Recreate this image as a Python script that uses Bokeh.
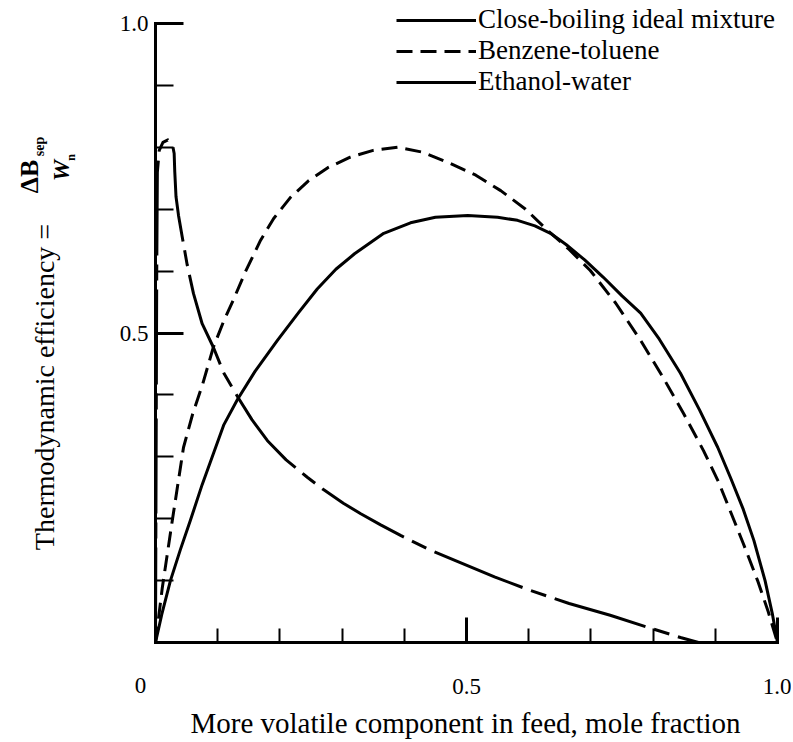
import math
from bokeh.plotting import figure
from bokeh.models import Range1d, FixedTicker, Label, Legend, LegendItem, LinearAxis
from bokeh.embed import file_html
from bokeh.resources import INLINE

# ---- data ----
ideal_x = [0.0, 0.01, 0.024, 0.04, 0.056, 0.075, 0.093, 0.11, 0.132, 0.16, 0.196, 0.23,
           0.26, 0.29, 0.32, 0.367, 0.41, 0.45, 0.502, 0.55, 0.582, 0.61, 0.635, 0.66,
           0.69, 0.72, 0.75, 0.78, 0.81, 0.844, 0.875, 0.904, 0.925, 0.945, 0.962,
           0.98, 0.992, 1.0]
ideal_y = [0.0, 0.045, 0.10, 0.15, 0.197, 0.255, 0.305, 0.352, 0.393, 0.438, 0.488, 0.533,
           0.571, 0.603, 0.628, 0.661, 0.678, 0.687, 0.69, 0.687, 0.682, 0.673, 0.661, 0.643,
           0.618, 0.59, 0.56, 0.532, 0.49, 0.435, 0.375, 0.315, 0.265, 0.215, 0.165,
           0.10, 0.045, 0.0]

benz_x = [0.0, 0.005, 0.011, 0.027, 0.045, 0.06, 0.076, 0.093, 0.11, 0.125, 0.145, 0.169,
          0.19, 0.217, 0.245, 0.277, 0.313, 0.35, 0.389, 0.43, 0.474, 0.515, 0.555, 0.595,
          0.63, 0.665, 0.699, 0.74, 0.78, 0.815, 0.849, 0.881, 0.905, 0.925, 0.945, 0.968,
          0.985, 1.0]
benz_y = [0.0, 0.04, 0.089, 0.197, 0.315, 0.37, 0.418, 0.477, 0.52, 0.553, 0.60, 0.65,
          0.685, 0.719, 0.745, 0.767, 0.784, 0.795, 0.80, 0.792, 0.774, 0.755, 0.73, 0.70,
          0.666, 0.635, 0.601, 0.548, 0.488, 0.43, 0.37, 0.31, 0.26, 0.21, 0.16, 0.10,
          0.05, 0.0]

eth_x = [0.0, 0.001, 0.002, 0.003, 0.006, 0.012, 0.02, 0.027, 0.030, 0.031, 0.033, 0.037,
         0.043, 0.051, 0.061, 0.075, 0.093, 0.11, 0.132, 0.155, 0.18, 0.21, 0.244, 0.27,
         0.302, 0.33, 0.362, 0.394, 0.44, 0.49, 0.545, 0.603, 0.665, 0.731, 0.79, 0.844, 0.873]
eth_y = [0.0, 0.30, 0.60, 0.76, 0.795, 0.808, 0.812, 0.806, 0.79, 0.76, 0.72, 0.69,
         0.655, 0.61, 0.564, 0.515, 0.477, 0.435, 0.397, 0.36, 0.326, 0.295, 0.267, 0.247,
         0.225, 0.208, 0.19, 0.173, 0.15, 0.129, 0.106, 0.084, 0.063, 0.044, 0.025, 0.008, 0.0]

series_names = ["Close-boiling ideal mixture", "Benzene-toluene", "Ethanol-water"]

x_major = [0.0, 0.5, 1.0]
x_minor = [0.1, 0.2, 0.3, 0.4, 0.6, 0.7, 0.8, 0.9]
x_tick_labels = {0.0: "", 0.5: "0.5", 1.0: "1.0"}
y_major = [0.5, 1.0]
y_minor = [0.1, 0.2, 0.3, 0.4, 0.6, 0.7, 0.8, 0.9]
y_tick_labels = {0.5: "0.5", 1.0: "1.0"}

x_title = "More volatile component in feed, mole fraction"
y_title = "Thermodynamic efficiency  ="

FONT = "Liberation Serif"
W, H = 791, 740
# pixel geometry of the data box (x 0..1 spans px 155..777, y 0..1 spans px 642..23)
X0, XS = 155.0, 622.0
Y0, YS = 642.0, 619.0


def dx(px):
    return (px - X0) / XS


def dy(py):
    return (Y0 - py) / YS


p = figure(width=W, height=H, output_backend="svg", toolbar_location=None,
           x_range=Range1d(dx(0), dx(W)), y_range=Range1d(dy(H), dy(0)),
           x_axis_type=None, y_axis_type=None,
           min_border_left=0, min_border_right=0, min_border_top=0, min_border_bottom=0)
p.outline_line_color = None
p.background_fill_color = "white"
p.border_fill_color = "white"

r1 = p.line(ideal_x, ideal_y, line_color="black", line_width=3, line_join="round")
r2 = p.line(benz_x, benz_y, line_color="black", line_width=3, line_dash="16 8")
r3 = p.line(eth_x, eth_y, line_color="black", line_width=3, line_dash="95 9 16 9",
            line_join="round")

xaxis = LinearAxis(fixed_location=0, bounds=(0, 1),
                   ticker=FixedTicker(ticks=x_major, minor_ticks=x_minor))
yaxis = LinearAxis(fixed_location=0, bounds=(0, 1),
                   ticker=FixedTicker(ticks=y_major, minor_ticks=y_minor))
for ax in (xaxis, yaxis):
    ax.axis_line_width = 3
    ax.axis_line_cap = "square"
    ax.major_tick_line_width = 3
    ax.minor_tick_line_width = 2
    ax.major_tick_out = 0
    ax.minor_tick_out = 0
    ax.major_label_text_font = FONT
    ax.major_label_text_font_size = "23px"
    ax.major_label_text_color = "black"

xaxis.major_label_overrides = x_tick_labels
xaxis.major_tick_in = 25
xaxis.minor_tick_in = 14
xaxis.major_label_standoff = 36

yaxis.major_label_overrides = y_tick_labels
yaxis.major_tick_in = 28
yaxis.minor_tick_in = 18
yaxis.major_label_standoff = 7

p.add_layout(xaxis, "below")
p.add_layout(yaxis, "left")

# the "0" label of the x axis sits left of the corner in the reference
p.add_layout(Label(x=dx(140), y=dy(685), text="0", text_align="center", text_baseline="middle",
                   text_font=FONT, text_font_size="23px", text_color="black"))

# x axis title
p.add_layout(Label(x=dx(465), y=dy(722), text=x_title, text_align="center", text_baseline="middle",
                   text_font=FONT, text_font_size="29px", text_color="black"))
# y axis title pieces
p.add_layout(Label(x=dx(44), y=dy(383), text=y_title, angle=math.pi / 2, text_align="center",
                   text_baseline="middle", text_font=FONT, text_font_size="28px", text_color="black"))
p.add_layout(Label(x=dx(29), y=dy(176), text="ΔB", angle=math.pi / 2, text_align="center",
                   text_baseline="middle", text_font=FONT, text_font_size="26px",
                   text_font_style="bold", text_color="black"))
p.add_layout(Label(x=dx(39), y=dy(146), text="sep", angle=math.pi / 2, text_align="center",
                   text_baseline="middle", text_font=FONT, text_font_size="14px",
                   text_font_style="bold", text_color="black"))
p.add_layout(Label(x=dx(60), y=dy(170), text="W", angle=math.pi / 2, text_align="center",
                   text_baseline="middle", text_font=FONT, text_font_size="24px",
                   text_font_style="bold italic", text_color="black"))
p.add_layout(Label(x=dx(70), y=dy(157), text="n", angle=math.pi / 2, text_align="center",
                   text_baseline="middle", text_font=FONT, text_font_size="12px",
                   text_font_style="bold", text_color="black"))

legend = Legend(items=[LegendItem(label=series_names[0], renderers=[r1]),
                       LegendItem(label=series_names[1], renderers=[r2]),
                       LegendItem(label=series_names[2], renderers=[r3])],
                location=(396, H - 97), orientation="vertical",
                glyph_width=80, glyph_height=26, label_height=26, label_standoff=2,
                spacing=-6, padding=0, margin=0,
                label_text_font=FONT, label_text_font_size="27px", label_text_color="black",
                background_fill_alpha=0, border_line_color=None)
p.add_layout(legend, "center")

open("out.html", "w").write(file_html(p, INLINE))
